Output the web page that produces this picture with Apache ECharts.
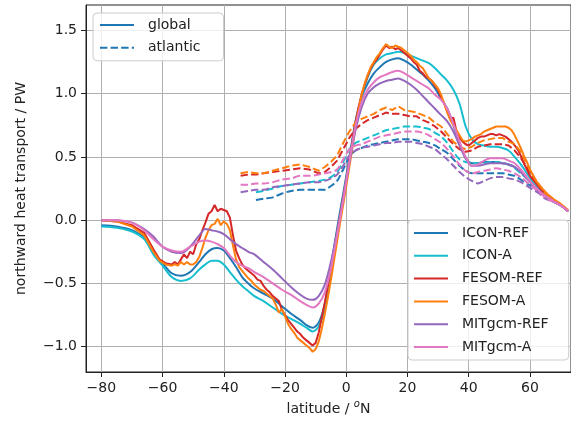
<!DOCTYPE html>
<html>
<head>
<meta charset="utf-8">
<script src="https://cdn.jsdelivr.net/npm/echarts@6/dist/echarts.min.js"></script>
<style>
  html, body { margin: 0; padding: 0; background: #fff; }
  #chart { width: 571px; height: 423px; }
</style>
</head>
<body>
<div id="chart"></div>
<script>
// Meridional (northward) heat transport in PW versus latitude, for three ocean models
// (ICON, FESOM, MITgcm), each in a reference and an "A" configuration.
// Solid lines: global ocean; dashed lines: Atlantic basin.

const models = ['ICON-REF', 'ICON-A', 'FESOM-REF', 'FESOM-A', 'MITgcm-REF', 'MITgcm-A'];
const modelColors = ['#1f77b4', '#17becf', '#d62728', '#ff7f0e', '#9467bd', '#e377c2'];

const xTicks = [-80, -60, -40, -20, 0, 20, 40, 60];
const yTicks = [-1.0, -0.5, 0.0, 0.5, 1.0, 1.5];

// latitude grid (deg N) of the global transports for ICON and MITgcm
const latGlobal = [
  -80, -75, -70, -66, -63, -60, -57, -54, -51, -48,
  -46, -44, -42, -40, -38, -36, -34, -32, -30, -27,
  -24, -21, -18, -15, -13, -11, -9, -7, -5, -3,
  -1, 1, 3, 5, 7, 9, 11, 13, 15, 17,
  19, 21, 23, 25, 27, 29, 31, 33, 35, 37,
  39, 41, 43, 45, 47, 49, 51, 53, 55, 57,
  59, 61, 63, 65, 67, 69, 71, 72.5
];

// finer latitude grid for the FESOM global transports
const latFesom = [
  -80, -75, -70, -66, -63, -61, -59,
  -57, -56, -55, -54, -53, -52, -51, -50, -49, -48,
  -47, -46, -45, -44, -43, -42, -41, -40, -39, -38,
  -37, -36, -35, -34, -33, -32, -31, -30, -29, -28,
  -27, -26, -25, -24, -23, -22, -21, -20, -19, -18,
  -17, -16, -15, -14, -13, -12, -11, -10, -9, -8,
  -7, -6, -5, -4, -3, -2, -1, 0, 1, 2,
  3, 4, 5, 6, 7, 8, 9, 10, 11, 12,
  13, 14, 15, 16, 17, 18, 19, 20, 21, 22,
  23, 24, 25, 26, 27, 28, 29, 30, 31, 32,
  33, 34, 35, 36, 37, 38, 39, 40, 41, 42,
  43, 44, 45, 46, 47, 48, 49, 50, 51, 52,
  53, 54, 55, 56, 57, 58, 59, 60,
  62, 64, 66, 68, 70, 72.5
];

// latitude grid of the Atlantic transports
const latAtlantic = [
  -34.5, -32, -29.5, -27, -24, -21, -18, -15, -12, -9,
  -7, -5, -3, -1, 1, 3, 5, 7, 9, 11,
  13, 15, 17, 19, 21, 23, 25, 27, 29, 31,
  33, 35, 37, 39, 41, 43, 45, 47, 49, 51,
  53, 55, 57, 59, 61, 63, 65, 67, 69, 71,
  72.5
];

// ---- global transports (PW) ----
const iconRefGlobal = [
  -0.04, -0.05, -0.08, -0.14, -0.25, -0.34, -0.42, -0.44, -0.41, -0.33,
  -0.27, -0.23, -0.22, -0.24, -0.30, -0.37, -0.45, -0.50, -0.54, -0.58,
  -0.62, -0.68, -0.74, -0.79, -0.83, -0.85, -0.81, -0.66, -0.36, -0.07,
  0.21, 0.49, 0.78, 0.97, 1.08, 1.16, 1.21, 1.25, 1.27, 1.28,
  1.26, 1.23, 1.19, 1.15, 1.10, 1.04, 0.96, 0.88, 0.75, 0.61,
  0.49, 0.45, 0.45, 0.46, 0.46, 0.46, 0.45, 0.44, 0.42, 0.38,
  0.33, 0.28, 0.23, 0.19, 0.16, 0.13, 0.10, 0.07
];
const iconAGlobal = [
  -0.05, -0.06, -0.09, -0.15, -0.27, -0.36, -0.45, -0.48, -0.46, -0.39,
  -0.35, -0.32, -0.32, -0.35, -0.41, -0.47, -0.52, -0.56, -0.60, -0.64,
  -0.69, -0.74, -0.78, -0.82, -0.85, -0.88, -0.84, -0.70, -0.42, -0.10,
  0.18, 0.47, 0.76, 0.97, 1.13, 1.23, 1.28, 1.31, 1.32, 1.33,
  1.32, 1.30, 1.28, 1.26, 1.24, 1.20, 1.15, 1.10, 1.03, 0.92,
  0.74, 0.64, 0.60, 0.59, 0.58, 0.58, 0.57, 0.55, 0.50, 0.44,
  0.37, 0.30, 0.24, 0.19, 0.16, 0.14, 0.10, 0.07
];
const fesomRefGlobal = [
  0.00, -0.01, -0.04, -0.10, -0.23, -0.31, -0.34,
  -0.35, -0.33, -0.35, -0.31, -0.27, -0.30, -0.25, -0.27, -0.19, -0.15,
  -0.08, -0.02, 0.05, 0.07, 0.12, 0.07, 0.09, 0.08, 0.07, 0.02,
  -0.12, -0.24, -0.30, -0.35, -0.38, -0.40, -0.42, -0.44, -0.47, -0.48,
  -0.52, -0.55, -0.57, -0.60, -0.62, -0.64, -0.71, -0.75, -0.79, -0.82,
  -0.85, -0.88, -0.90, -0.93, -0.95, -0.97, -0.99, -0.97, -0.89, -0.77,
  -0.65, -0.52, -0.38, -0.24, -0.10, 0.04, 0.18, 0.32, 0.47, 0.62,
  0.77, 0.89, 0.99, 1.07, 1.14, 1.20, 1.24, 1.27, 1.31, 1.35,
  1.38, 1.36, 1.37, 1.35, 1.36, 1.34, 1.32, 1.30, 1.28, 1.25,
  1.23, 1.18, 1.16, 1.13, 1.12, 1.10, 1.06, 1.03, 0.97, 0.92,
  0.86, 0.80, 0.81, 0.70, 0.65, 0.62, 0.60, 0.59, 0.61, 0.63,
  0.65, 0.66, 0.66, 0.67, 0.68, 0.68, 0.67, 0.68, 0.67, 0.66,
  0.64, 0.62, 0.59, 0.56, 0.51, 0.45, 0.40, 0.35,
  0.29, 0.23, 0.18, 0.15, 0.12, 0.07
];
const fesomAGlobal = [
  0.00, -0.01, -0.05, -0.12, -0.25, -0.32, -0.35,
  -0.36, -0.35, -0.36, -0.33, -0.35, -0.33, -0.35, -0.35, -0.33, -0.29,
  -0.22, -0.14, -0.08, -0.04, -0.03, 0.01, -0.04, -0.01, -0.03, -0.08,
  -0.20, -0.31, -0.37, -0.40, -0.43, -0.46, -0.48, -0.51, -0.53, -0.55,
  -0.56, -0.58, -0.60, -0.62, -0.67, -0.73, -0.70, -0.76, -0.82, -0.86,
  -0.89, -0.93, -0.95, -0.97, -0.99, -1.01, -1.04, -1.02, -0.96, -0.86,
  -0.74, -0.61, -0.47, -0.32, -0.17, -0.02, 0.12, 0.27, 0.42, 0.57,
  0.73, 0.87, 0.99, 1.08, 1.15, 1.21, 1.25, 1.29, 1.32, 1.36,
  1.39, 1.37, 1.36, 1.38, 1.37, 1.36, 1.34, 1.32, 1.30, 1.27,
  1.25, 1.22, 1.20, 1.16, 1.12, 1.10, 1.07, 1.04, 0.99, 0.92,
  0.85, 0.79, 0.75, 0.71, 0.67, 0.63, 0.62, 0.63, 0.64, 0.66,
  0.67, 0.68, 0.70, 0.71, 0.72, 0.73, 0.74, 0.74, 0.74, 0.74,
  0.73, 0.71, 0.67, 0.62, 0.57, 0.51, 0.46, 0.40,
  0.31, 0.25, 0.20, 0.16, 0.13, 0.08
];
const mitRefGlobal = [
  0.00, 0.00, -0.02, -0.07, -0.13, -0.21, -0.25, -0.26, -0.21, -0.12,
  -0.07, -0.08, -0.09, -0.11, -0.15, -0.19, -0.22, -0.25, -0.27, -0.33,
  -0.39, -0.46, -0.53, -0.59, -0.62, -0.63, -0.60, -0.51, -0.33, -0.10,
  0.17, 0.45, 0.71, 0.89, 1.00, 1.05, 1.08, 1.10, 1.11, 1.12,
  1.10, 1.07, 1.03, 0.98, 0.93, 0.88, 0.83, 0.78, 0.70, 0.59,
  0.49, 0.43, 0.43, 0.44, 0.45, 0.45, 0.45, 0.44, 0.42, 0.38,
  0.33, 0.28, 0.23, 0.19, 0.16, 0.13, 0.10, 0.07
];
const mitAGlobal = [
  0.00, 0.00, -0.02, -0.08, -0.15, -0.21, -0.24, -0.25, -0.21, -0.17,
  -0.16, -0.17, -0.19, -0.22, -0.28, -0.33, -0.36, -0.38, -0.41, -0.45,
  -0.50, -0.55, -0.59, -0.64, -0.67, -0.69, -0.66, -0.57, -0.38, -0.12,
  0.16, 0.46, 0.74, 0.93, 1.03, 1.09, 1.13, 1.15, 1.17, 1.18,
  1.16, 1.13, 1.10, 1.07, 1.04, 0.99, 0.95, 0.88, 0.76, 0.62,
  0.50, 0.43, 0.44, 0.47, 0.49, 0.49, 0.49, 0.47, 0.45, 0.40,
  0.34, 0.28, 0.23, 0.19, 0.16, 0.13, 0.10, 0.07
];

// ---- Atlantic transports (PW); ICON starts at 29.5 S ----
const iconRefAtl = [
  null, null, 0.16, 0.17, 0.18, 0.21, 0.23, 0.24, 0.24, 0.24,
  0.24, 0.27, 0.31, 0.40, 0.50, 0.55, 0.57, 0.59, 0.60, 0.61,
  0.62, 0.63, 0.64, 0.64, 0.64, 0.63, 0.62, 0.61, 0.59, 0.56,
  0.53, 0.48, 0.43, 0.39, 0.37, 0.37, 0.37, 0.37, 0.37, 0.37,
  0.36, 0.35, 0.32, 0.29, 0.26, 0.22, 0.18, 0.15, 0.13, 0.10,
  0.07
];
const iconAAtl = [
  null, null, 0.22, 0.23, 0.25, 0.27, 0.28, 0.29, 0.30, 0.31,
  0.32, 0.34, 0.38, 0.46, 0.56, 0.61, 0.63, 0.65, 0.67, 0.69,
  0.71, 0.72, 0.73, 0.74, 0.74, 0.74, 0.73, 0.72, 0.69, 0.66,
  0.61, 0.54, 0.48, 0.46, 0.45, 0.45, 0.45, 0.46, 0.46, 0.45,
  0.44, 0.41, 0.37, 0.33, 0.28, 0.23, 0.19, 0.16, 0.13, 0.10,
  0.07
];
const fesomRefAtl = [
  0.35, 0.36, 0.36, 0.37, 0.38, 0.39, 0.40, 0.41, 0.40, 0.37,
  0.38, 0.42, 0.47, 0.56, 0.65, 0.72, 0.76, 0.79, 0.81, 0.83,
  0.85, 0.84, 0.84, 0.83, 0.82, 0.82, 0.79, 0.77, 0.74, 0.70,
  0.65, 0.60, 0.56, 0.54, 0.55, 0.58, 0.59, 0.60, 0.60, 0.60,
  0.59, 0.55, 0.49, 0.42, 0.34, 0.27, 0.21, 0.17, 0.14, 0.10,
  0.07
];
const fesomAAtl = [
  0.37, 0.38, 0.37, 0.37, 0.39, 0.41, 0.43, 0.44, 0.42, 0.39,
  0.42, 0.46, 0.51, 0.61, 0.70, 0.77, 0.80, 0.82, 0.84, 0.87,
  0.89, 0.87, 0.90, 0.87, 0.86, 0.85, 0.83, 0.81, 0.77, 0.74,
  0.68, 0.62, 0.58, 0.56, 0.58, 0.61, 0.63, 0.64, 0.65, 0.65,
  0.62, 0.60, 0.54, 0.44, 0.35, 0.28, 0.21, 0.17, 0.14, 0.10,
  0.07
];
const mitRefAtl = [
  0.22, 0.23, 0.24, 0.24, 0.26, 0.27, 0.28, 0.29, 0.30, 0.30,
  0.31, 0.33, 0.36, 0.43, 0.51, 0.55, 0.57, 0.58, 0.59, 0.60,
  0.61, 0.61, 0.62, 0.62, 0.62, 0.61, 0.60, 0.58, 0.56, 0.52,
  0.48, 0.43, 0.38, 0.34, 0.31, 0.29, 0.31, 0.33, 0.34, 0.34,
  0.33, 0.32, 0.30, 0.27, 0.24, 0.21, 0.17, 0.15, 0.13, 0.10,
  0.07
];
const mitAAtl = [
  0.28, 0.28, 0.29, 0.29, 0.30, 0.32, 0.33, 0.35, 0.35, 0.36,
  0.37, 0.38, 0.40, 0.48, 0.56, 0.59, 0.60, 0.62, 0.64, 0.66,
  0.67, 0.68, 0.69, 0.70, 0.70, 0.70, 0.69, 0.67, 0.64, 0.61,
  0.56, 0.50, 0.44, 0.39, 0.37, 0.38, 0.39, 0.40, 0.41, 0.40,
  0.39, 0.37, 0.34, 0.30, 0.26, 0.22, 0.18, 0.15, 0.13, 0.10,
  0.07
];

// ---- assembling the chart ----
const FONT = 'DejaVu Sans';
const INK = '#222222';
const DASH = [7.4, 3.2];
const CLEAR = 'rgba(0,0,0,0)';

const globalLat = [latGlobal, latGlobal, latFesom, latFesom, latGlobal, latGlobal];
const globalVals = [iconRefGlobal, iconAGlobal, fesomRefGlobal, fesomAGlobal, mitRefGlobal, mitAGlobal];
const atlVals = [iconRefAtl, iconAAtl, fesomRefAtl, fesomAAtl, mitRefAtl, mitAAtl];

function pairs(lats, vals) {
  return lats.map((x, i) => [x, vals[i]]);
}
function minusSign(s) {
  return String(s).replace('-', '\u2212');
}

const series = [];
models.forEach((m, k) => {
  const jagged = m.indexOf('FESOM') === 0;
  series.push({
    name: m,
    type: 'line',
    data: pairs(globalLat[k], globalVals[k]),
    symbol: 'none',
    smooth: jagged ? false : 0.3,
    lineStyle: { color: modelColors[k], width: 2 },
    itemStyle: { color: modelColors[k] },
    z: 2 + k
  });
  series.push({
    name: m + ' atlantic',
    type: 'line',
    data: pairs(latAtlantic, atlVals[k]),
    symbol: 'none',
    smooth: jagged ? false : 0.3,
    lineStyle: { color: modelColors[k], width: 2, type: DASH },
    itemStyle: { color: modelColors[k] },
    z: 2 + k
  });
});
// entries for the basin legend (line style key)
series.push({
  name: 'global', type: 'line', data: [], symbol: 'none',
  lineStyle: { color: '#1f77b4', width: 2 }, itemStyle: { color: '#1f77b4' }
});
series.push({
  name: 'atlantic', type: 'line', data: [], symbol: 'none',
  lineStyle: { color: '#1f77b4', width: 2, type: DASH }, itemStyle: { color: '#1f77b4' }
});

const legendBase = {
  orient: 'vertical',
  selectedMode: false,
  itemWidth: 34,
  itemHeight: 14,
  itemGap: 8.8,
  backgroundColor: 'rgba(255,255,255,0.8)',
  borderColor: '#cccccc',
  borderWidth: 1,
  borderRadius: 4,
  // keys are plain line segments: hide the point marker of the line icon
  itemStyle: { color: CLEAR, borderColor: CLEAR, borderWidth: 0 },
  textStyle: { fontFamily: FONT, fontSize: 14, color: INK, padding: [0, 0, 0, 9] }
};

const option = {
  animation: false,
  backgroundColor: '#ffffff',
  grid: {
    left: 86, right: -2, top: 5, bottom: 51,
    show: true, borderColor: INK, borderWidth: 1, backgroundColor: 'transparent'
  },
  xAxis: {
    type: 'value',
    min: -85, max: 73.4,
    name: '{t|latitude / }{s|o}{t|N}',
    nameLocation: 'middle',
    nameGap: 27,
    nameTextStyle: {
      rich: {
        t: { fontFamily: FONT, fontSize: 14, color: INK },
        s: { fontFamily: FONT, fontSize: 10, fontStyle: 'italic', color: INK, padding: [0, 0, 8, 0] }
      }
    },
    axisLine: { show: true, onZero: false, lineStyle: { color: INK, width: 1 } },
    axisTick: { show: true, length: 5, lineStyle: { color: INK, width: 1 }, customValues: xTicks },
    axisLabel: {
      customValues: xTicks, margin: 9,
      fontFamily: FONT, fontSize: 14, color: INK,
      formatter: v => minusSign(v)
    },
    splitLine: { show: true, lineStyle: { color: '#b0b0b0', width: 1 } }
  },
  yAxis: {
    type: 'value',
    min: -1.2, max: 1.7,
    name: 'northward heat transport / PW',
    nameLocation: 'middle',
    nameGap: 58,
    nameRotate: 90,
    nameTextStyle: { fontFamily: FONT, fontSize: 14, color: INK },
    axisLine: { show: true, onZero: false, lineStyle: { color: INK, width: 1 } },
    axisTick: { show: true, length: 5, lineStyle: { color: INK, width: 1 }, customValues: yTicks },
    axisLabel: {
      customValues: yTicks, margin: 9,
      fontFamily: FONT, fontSize: 14, color: INK,
      formatter: v => minusSign(Number(v).toFixed(1))
    },
    splitLine: { show: true, lineStyle: { color: '#b0b0b0', width: 1 } }
  },
  legend: [
    Object.assign({}, legendBase, {
      data: ['global', 'atlantic'],
      left: 93, top: 13,
      padding: [5, 23, 6, 6]
    }),
    Object.assign({}, legendBase, {
      data: models,
      left: 408, top: 220,
      padding: [6, 20, 6, 5]
    })
  ],
  series: series
};

const chart = echarts.init(document.getElementById('chart'), null, { renderer: 'canvas' });
chart.setOption(option);
</script>
</body>
</html>
